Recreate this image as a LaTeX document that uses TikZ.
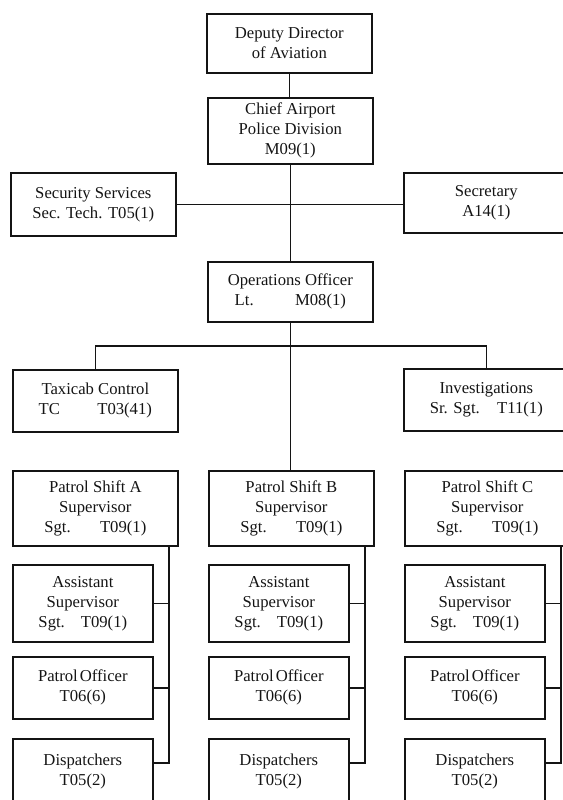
\documentclass[tikz,border=0pt]{standalone}
\usepackage{fontspec}
\setmainfont{Liberation Serif}
\usetikzlibrary{positioning,calc}
\definecolor{ink}{RGB}{20,20,20}
\tikzset{
  unit/.style={draw=ink,line width=1.25pt,inner sep=0pt,align=center,anchor=north west,
    font=\fontsize{12.5}{15}\selectfont,text=ink},
  wide/.style={unit,minimum width=123.75pt},
  narrow/.style={unit,minimum width=105pt},
  link/.style={line width=1.25pt,ink},
}
\begin{document}
\begin{tikzpicture}[x=0.75pt,y=-0.75pt]
\useasboundingbox (0,0) rectangle (563,800);
\clip (0,0) rectangle (563,800);
% head of the division
\node[wide,minimum height=44.25pt] (dep) at (206,13) {Deputy Director\\of Aviation};
\node[wide,minimum height=49.5pt] (chief) at (207,97) {Chief Airport\\Police Division\\M09(1)};
\node[wide,minimum height=47.25pt] (secs) at (10,172) {Security Services\\Sec. Tech. T05(1)};
\node[wide,minimum height=45pt] (secr) at (403,172) {Secretary\\A14(1)};
\node[wide,minimum height=45pt] (ops) at (207,261) {Operations Officer\\Lt.\hspace{31pt}M08(1)};
\node[wide,minimum height=46.5pt] (taxi) at (12,369) {Taxicab Control\\TC\hspace{28pt}T03(41)};
\node[wide,minimum height=46.5pt] (inv) at (403,368) {Investigations\\Sr. Sgt.\hspace{13pt}T11(1)};
\draw[link] (dep.south) -- (dep.south |- chief.north);
\draw[link] (chief.south) -- (chief.south |- ops.north);
\draw[link] (secs.east) -- (secs.east -| secr.west);
\coordinate (bar) at (289,346);
\draw[link] (taxi.north) |- (bar) -| (inv.north);
% three patrol shifts
\foreach \i/\lab in {0/A,1/B,2/C}{
  \pgfmathsetmacro\cx{12+196*\i}
  \node[wide,minimum height=56.25pt] (sup\i) at (\cx,470) {Patrol Shift \lab\\Supervisor\\Sgt.\hspace{22pt}T09(1)};
  \node[narrow,minimum height=57.75pt] (ast\i) at (\cx,564) {Assistant\\Supervisor\\Sgt.\hspace{12pt}T09(1)};
  \node[narrow,minimum height=46.5pt] (off\i) at (\cx,656) {Patrol\hspace{1.5pt}Officer\\T06(6)};
  \node[narrow,minimum height=48.75pt] (dsp\i) at (\cx,738) {Dispatchers\\T05(2)};
  \coordinate (tr\i) at ($(sup\i.south west)+(157,0)$);
  \coordinate (ds\i) at ($(dsp\i.north east)+(0,25)$);
  \draw[link] (tr\i) |- (ds\i);
  \draw[link] (ast\i.east) -- (ast\i.east -| tr\i);
  \draw[link] (off\i.east) -- (off\i.east -| tr\i);
}
\draw[link] (ops.south) -- (ops.south |- sup1.north);
\end{tikzpicture}
\end{document}
